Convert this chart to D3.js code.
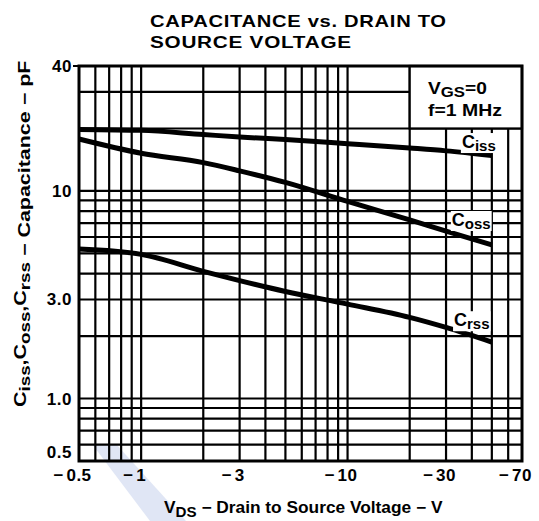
<!DOCTYPE html>
<html>
<head>
<meta charset="utf-8">
<script src="https://cdn.jsdelivr.net/npm/d3@7/dist/d3.min.js"></script>
<style>
  html, body { margin: 0; padding: 0; background: #fff; }
  svg { display: block; }
  text { font-family: "Liberation Sans", Arial, Helvetica, sans-serif; fill: #000; }
</style>
</head>
<body>
<svg id="chart" width="539" height="521"></svg>
<script>
// ---- data ----
const vds  = [0.5, 1, 2, 3, 5, 10, 20, 30, 50];
const ciss = [19.8, 19.6, 18.7, 18.2, 17.7, 16.9, 16.1, 15.6, 14.8];
const coss = [17.8, 15.2, 13.7, 12.5, 11.0, 8.9, 7.25, 6.4, 5.5];
const crss = [5.25, 4.95, 4.1, 3.7, 3.28, 2.85, 2.46, 2.2, 1.87];

const xTicks = [0.5, 1, 3, 10, 30, 70];
const xTickLabels = ["0.5", "1", "3", "10", "30", "70"];
const yTicks = [0.5, 1, 3, 10, 40];
const yTickLabels = ["0.5", "1.0", "3.0", "10", "40"];

const xGrid = [0.6, 0.7, 0.8, 0.9, 1, 2, 3, 4, 5, 6, 7, 8, 9, 10, 20, 30, 40, 50, 60];
const yGrid = [0.6, 0.7, 0.8, 0.9, 1, 2, 3, 4, 5, 6, 7, 8, 9, 10, 20, 30];

const seriesNames = ["iss", "oss", "rss"];
// label anchor points in data units (V, pF)
const labelAt = [[35.8, 16.1], [32, 6.78], [32.8, 2.23]];

const titleLines = ["CAPACITANCE vs. DRAIN TO", "SOURCE VOLTAGE"];
const legendLines = ["V", "GS", "=0", "f=1 MHz"];

// ---- layout ----
const svg = d3.select("#chart");
const L = 79, R = 522, T = 66, B = 461;
const x = d3.scaleLog().domain([0.5, 70]).range([L, R]);
const y = d3.scaleLog().domain([0.5, 40]).range([B, T]);

// stretch a text element horizontally to a target width
function fit(sel, w, tx, ty, rot) {
  const bw = sel.node().getBBox().width;
  const k = w / bw;
  sel.attr("transform", `translate(${tx},${ty})${rot ? ` rotate(${rot})` : ""} scale(${k},1)`);
}

// watermark band
svg.append("polygon")
  .attr("points", [[92, 444], [116, 444], [186, 521], [150, 521]].map(p => p.join(",")).join(" "))
  .attr("fill", "#e0e6f5");

// grid
const g = svg.append("g");
g.selectAll("line.vx").data(xGrid).join("line")
  .attr("x1", d => x(d)).attr("x2", d => x(d))
  .attr("y1", T).attr("y2", B)
  .attr("stroke", "#000").attr("stroke-width", 2.2);
g.selectAll("line.hy").data(yGrid).join("line")
  .attr("y1", d => y(d)).attr("y2", d => y(d))
  .attr("x1", L).attr("x2", R)
  .attr("stroke", "#000").attr("stroke-width", 2.2);

// legend box (white, covers grid)
svg.append("rect")
  .attr("x", x(20)).attr("y", y(40))
  .attr("width", x(70) - x(20)).attr("height", y(20) - y(40))
  .attr("fill", "#fff").attr("stroke", "#000").attr("stroke-width", 2.2);

// border
svg.append("rect")
  .attr("x", L).attr("y", T).attr("width", R - L).attr("height", B - T)
  .attr("fill", "none").attr("stroke", "#000").attr("stroke-width", 3);
svg.append("line").attr("x1", L - 6).attr("x2", L).attr("y1", y(40)).attr("y2", y(40))
  .attr("stroke", "#000").attr("stroke-width", 2);

// curves
const line = d3.line().x(d => x(d[0])).y(d => y(d[1])).curve(d3.curveMonotoneX);
[ciss, coss, crss].forEach(s => {
  svg.append("path")
    .attr("d", line(vds.map((v, i) => [v, s[i]])))
    .attr("fill", "none").attr("stroke", "#000").attr("stroke-width", 5)
    .attr("stroke-linecap", "butt");
});

// curve labels with white backgrounds
seriesNames.forEach((nm, i) => {
  const lg = svg.append("g");
  const bg = lg.append("rect").attr("fill", "#fff");
  const t = lg.append("text")
    .attr("x", x(labelAt[i][0])).attr("y", y(labelAt[i][1]))
    .style("font-size", "18px").style("font-weight", "bold");
  t.append("tspan").text("C");
  t.append("tspan").attr("dy", 3).style("font-size", "15px").text(nm);
  const bb = t.node().getBBox();
  bg.attr("x", bb.x - 1).attr("y", bb.y + 1).attr("width", bb.width + 2).attr("height", bb.height - 2);
});

// legend text
const lt1 = svg.append("text").style("font-size", "16px").style("font-weight", "bold");
lt1.append("tspan").text(legendLines[0]);
lt1.append("tspan").attr("dy", 3).style("font-size", "14px").text(legendLines[1]);
lt1.append("tspan").attr("dy", -3).text(legendLines[2]);
fit(lt1, 59, 428, 94);
const lt2 = svg.append("text").style("font-size", "16px").style("font-weight", "bold").text(legendLines[3]);
fit(lt2, 74, 428, 116);

// title
titleLines.forEach((s, i) => {
  const t = svg.append("text").style("font-size", "17px").style("font-weight", "bold")
    .style("letter-spacing", "0.6px").text(s);
  fit(t, i === 0 ? 297 : 202, 150, 27 + i * 21);
});

// x tick labels: number centred on tick, minus sign before it
xTicks.forEach((v, i) => {
  const t = svg.append("text").attr("x", x(v)).attr("y", 481)
    .attr("text-anchor", "middle").style("font-size", "17px").style("font-weight", "bold")
    .style("letter-spacing", "0.5px")
    .text(xTickLabels[i]);
  const w = t.node().getComputedTextLength();
  svg.append("text").attr("x", x(v) - w / 2 - 3).attr("y", 481)
    .attr("text-anchor", "end").style("font-size", "17px").style("font-weight", "bold")
    .text("\u2212");
});

// y tick labels
yTicks.forEach((v, i) => {
  const yy = v === yTicks[0] ? y(v) - 9 : y(v);
  svg.append("text").attr("x", 72).attr("y", yy + 6)
    .attr("text-anchor", "end").style("font-size", "17px").style("font-weight", "bold")
    .style("letter-spacing", "0.5px")
    .text(yTickLabels[i]);
});

// x axis title
const xt = svg.append("text").style("font-size", "16px").style("font-weight", "bold");
xt.append("tspan").text("V");
xt.append("tspan").attr("dy", 4).style("font-size", "14px").text("DS");
xt.append("tspan").attr("dy", -4).text(" \u2212 Drain to Source Voltage \u2212 V");
fit(xt, 279, 164, 513);

// y axis title
const yt = svg.append("text").style("font-size", "16px").style("font-weight", "bold");
[["C", "iss", ","], ["C", "oss", ","], ["C", "rss", ""]].forEach(p => {
  yt.append("tspan").text(p[0]);
  yt.append("tspan").attr("dy", 4).style("font-size", "14px").text(p[1]);
  yt.append("tspan").attr("dy", -4).text(p[2]);
});
yt.append("tspan").text(" \u2212 Capacitance \u2212 pF");
fit(yt, 347, 26, 407, -90);
</script>
</body>
</html>
